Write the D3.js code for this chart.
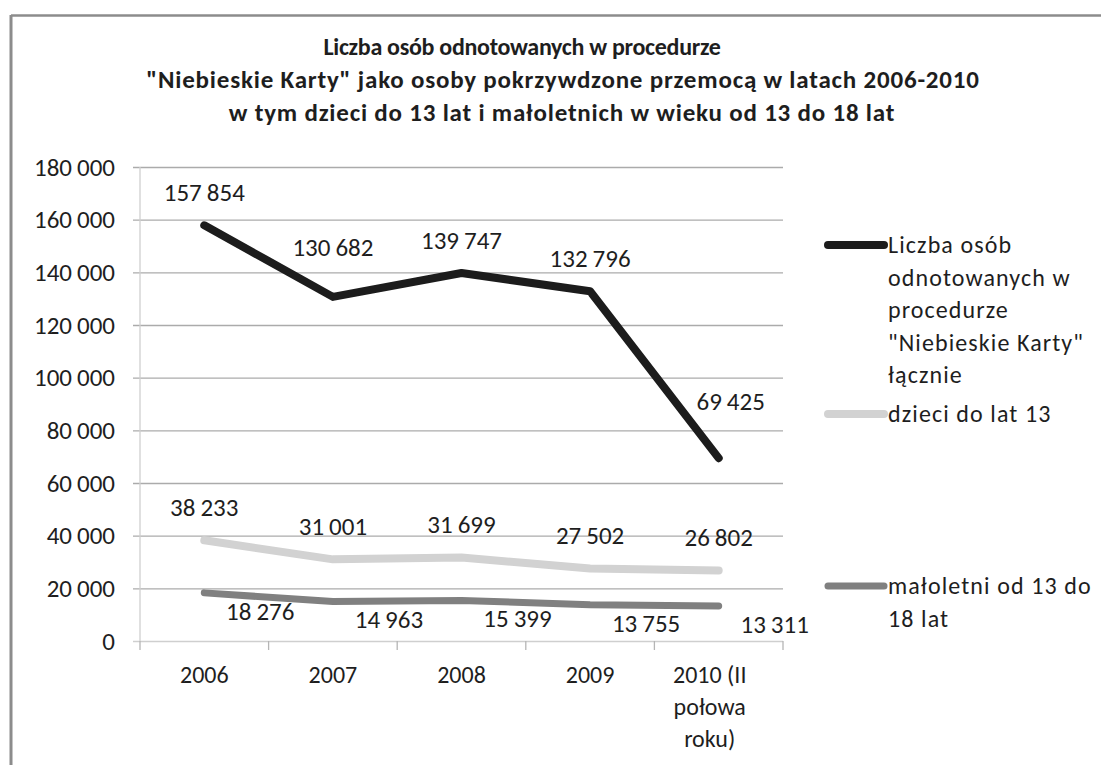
<!DOCTYPE html>
<html>
<head>
<meta charset="utf-8">
<script src="https://cdn.jsdelivr.net/npm/d3@7"></script>
<style>
  body { margin: 0; background: #fff; }
  svg text { font-family: Carlito, Lato, "Open Sans", sans-serif; fill: #1e1e1e; }
</style>
</head>
<body>
<div id="chart"></div>
<script>
const categories = ["2006", "2007", "2008", "2009", "2010 (II połowa roku)"];
const categoryLines = [["2006"], ["2007"], ["2008"], ["2009"], ["2010 (II", "połowa", "roku)"]];
const totalValues = [157854, 130682, 139747, 132796, 69425];
const childrenValues = [38233, 31001, 31699, 27502, 26802];
const minorValues = [18276, 14963, 15399, 13755, 13311];
const yTicks = [0, 20000, 40000, 60000, 80000, 100000, 120000, 140000, 160000, 180000];
const titleLines = [
    "Liczba osób odnotowanych w procedurze",
    "\"Niebieskie Karty\" jako osoby pokrzywdzone przemocą w latach 2006-2010",
    "w tym dzieci do 13 lat i małoletnich w wieku od 13 do 18 lat"
];
const seriesNames = [
    ["Liczba osób", "odnotowanych w", "procedurze", "\"Niebieskie Karty\"", "łącznie"],
    ["dzieci do lat 13"],
    ["małoletni od 13 do", "18 lat"]
];

const width = 1101;
const height = 765;
const plot = { left: 140, right: 783, top: 167, bottom: 641 };

const series = [
    { values: totalValues, color: "#1c1c1c", width: 8, label: { dx: 0, dy: -33 } },
    { values: childrenValues, color: "#d2d2d2", width: 8, label: { dx: 0, dy: -33 } },
    { values: minorValues, color: "#808080", width: 7, label: { dx: 56, dy: 18 } }
];
// a few labels Excel had nudged by hand
const labelNudge = { "0-1": { dx: 0, dy: -50 }, "0-4": { dx: 12, dy: -57 } };

const locale = d3.formatLocale({ decimal: ",", thousands: "\u2009", grouping: [3], currency: ["", " zł"] });
const fmt = locale.format(",d");

const svg = d3.select("#chart")
    .append("svg")
    .attr("width", width)
    .attr("height", height);

// outer frame (only top and left visible in the crop)
svg.append("line").attr("x1", 11).attr("x2", width).attr("y1", 15.5).attr("y2", 15.5)
    .attr("stroke", "#8c8c8c").attr("stroke-width", 2.5);
svg.append("line").attr("x1", 11).attr("x2", 11).attr("y1", 15).attr("y2", height)
    .attr("stroke", "#8c8c8c").attr("stroke-width", 3);

const xScale = d3.scaleBand()
    .domain(categories)
    .range([plot.left, plot.right]);

const yScale = d3.scaleLinear()
    .domain([0, 180000])
    .range([plot.bottom, plot.top]);

// gridlines + y labels
const yAxis = d3.axisLeft(yScale)
    .tickValues(yTicks)
    .tickSize(-(plot.right - plot.left + 7))
    .tickPadding(18)
    .tickFormat(d => fmt(d));

svg.append("g")
    .attr("id", "y-axis")
    .attr("transform", "translate(" + (plot.left - 7) + ",0)")
    .call(yAxis)
    .call(g => g.select(".domain").remove())
    .call(g => g.selectAll(".tick line").attr("stroke", d => d === 0 ? "#cfcfcf" : "#ababab").attr("stroke-width", 1.3))
    .call(g => g.selectAll(".tick text").attr("font-size", 25).attr("fill", "#1e1e1e"));

// vertical axis line
svg.append("line")
    .attr("x1", plot.left).attr("x2", plot.left)
    .attr("y1", plot.top).attr("y2", plot.bottom)
    .attr("stroke", "#cfcfcf").attr("stroke-width", 1.3);

// category ticks
svg.append("g")
    .selectAll("line")
    .data(d3.range(categories.length + 1))
    .enter()
    .append("line")
    .attr("x1", i => plot.left + i * xScale.bandwidth())
    .attr("x2", i => plot.left + i * xScale.bandwidth())
    .attr("y1", plot.bottom)
    .attr("y2", plot.bottom + 9)
    .attr("stroke", "#b5b5b5")
    .attr("stroke-width", 1.3);

// category labels
const catLabels = svg.append("g").attr("id", "x-axis")
    .selectAll("text")
    .data(categories)
    .enter()
    .append("text")
    .attr("x", (d, i) => xScale(d) + xScale.bandwidth() / 2 - (categoryLines[i].length > 1 ? 9 : 0))
    .attr("y", plot.bottom + 42)
    .attr("text-anchor", "middle")
    .attr("font-size", 24);

catLabels.selectAll("tspan")
    .data((d, i) => categoryLines[i])
    .enter()
    .append("tspan")
    .attr("x", function () { return d3.select(this.parentNode).attr("x"); })
    .attr("dy", (d, i) => i === 0 ? 0 : 32)
    .text(d => d);

// lines
const line = d3.line()
    .x((d, i) => xScale(categories[i]) + xScale.bandwidth() / 2)
    .y(d => yScale(d));

const drawOrder = [1, 2, 0];
drawOrder.forEach(si => {
    const s = series[si];
    svg.append("path")
        .datum(s.values)
        .attr("fill", "none")
        .attr("stroke", s.color)
        .attr("stroke-width", s.width)
        .attr("stroke-linejoin", "round")
        .attr("stroke-linecap", "round")
        .attr("d", line);
});

// data labels
series.forEach((s, si) => {
    svg.append("g")
        .selectAll("text")
        .data(s.values)
        .enter()
        .append("text")
        .attr("x", (d, i) => xScale(categories[i]) + xScale.bandwidth() / 2 + (labelNudge[si + "-" + i] || s.label).dx)
        .attr("y", (d, i) => yScale(d) + (labelNudge[si + "-" + i] || s.label).dy)
        .attr("dy", "0.35em")
        .attr("text-anchor", "middle")
        .attr("font-size", 25)
        .text(d => fmt(d));
});

// title
const titleX = [522, 563, 562];
svg.append("g")
    .selectAll("text")
    .data(titleLines)
    .enter()
    .append("text")
    .attr("x", (d, i) => titleX[i])
    .attr("y", (d, i) => 47 + i * 32.5)
    .attr("dy", "0.35em")
    .attr("text-anchor", "middle")
    .attr("font-size", (d, i) => i === 0 ? 24 : 25)
    .attr("font-weight", "bold")
    .attr("letter-spacing", (d, i) => i === 0 ? -0.3 : 0.8)
    .text(d => d);

// legend
const legendY = [245, 414, 586];
series.forEach((s, si) => {
    const g = svg.append("g").attr("transform", "translate(828," + legendY[si] + ")");
    g.append("line")
        .attr("x1", 0).attr("x2", 56)
        .attr("stroke", s.color)
        .attr("stroke-width", s.width)
        .attr("stroke-linecap", "round");
    g.append("text")
        .attr("x", 60)
        .attr("font-size", 24)
        .attr("letter-spacing", 1.1)
        .selectAll("tspan")
        .data(seriesNames[si])
        .enter()
        .append("tspan")
        .attr("x", 60)
        .attr("dy", (d, i) => i === 0 ? "0.35em" : 32.5)
        .text(d => d);
});
</script>
</body>
</html>
